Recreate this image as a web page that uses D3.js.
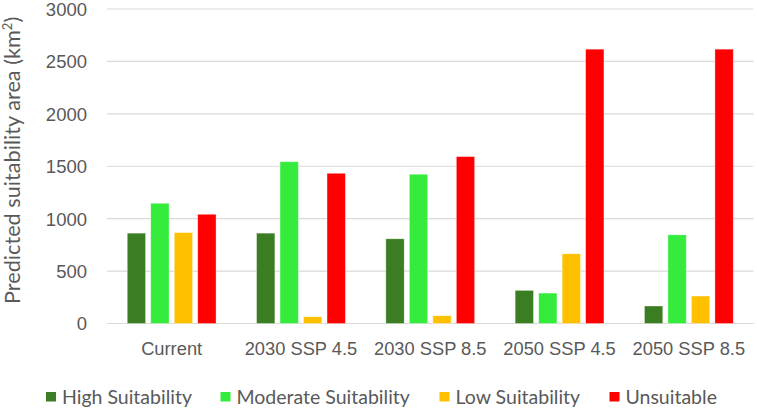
<!DOCTYPE html>
<html lang="en">
<head>
    <meta charset="UTF-8">
    <title>Predicted suitability area</title>
    <script src="https://d3js.org/d3.v7.min.js"></script>
    <style>
        body { margin: 0; background: #fff; font-family: Lato, "Open Sans", sans-serif; }
        .tick text { fill: #595959; }
    </style>
</head>
<body>
    <div id="chart"></div>
    <script>
        // Chart data
        const categories = ["Current", "2030 SSP 4.5", "2030 SSP 8.5", "2050 SSP 4.5", "2050 SSP 8.5"];
        const seriesNames = ["High Suitability", "Moderate Suitability", "Low Suitability", "Unsuitable"];
        const highSuitability = [862, 862, 808, 316, 167];
        const moderateSuitability = [1147, 1543, 1424, 290, 846];
        const lowSuitability = [867, 64, 74, 665, 262];
        const unsuitable = [1042, 1433, 1592, 2617, 2617];
        const yTicks = [0, 500, 1000, 1500, 2000, 2500, 3000];
        const colors = ["#3a7d22", "#35ec3d", "#ffc000", "#ff0000"];

        const seriesValues = [highSuitability, moderateSuitability, lowSuitability, unsuitable];

        const width = 757;
        const height = 408;
        const margin = { top: 9, right: 3.5, bottom: 84.5, left: 107 };

        const svg = d3.select("#chart")
            .append("svg")
            .attr("width", width)
            .attr("height", height);

        const x0 = d3.scaleBand()
            .domain(categories)
            .range([margin.left, width - margin.right]);

        // bars sit in the middle of each category band
        const mid = x0.bandwidth() / 2;
        const x1 = d3.scaleBand()
            .domain(seriesNames)
            .range([mid - 44.4, mid + 44.4])
            .paddingInner(0.22);

        const y = d3.scaleLinear()
            .domain([0, 3000])
            .range([height - margin.bottom, margin.top]);

        // Gridlines
        svg.append("g")
            .selectAll("line")
            .data(yTicks)
            .enter().append("line")
            .attr("x1", margin.left)
            .attr("x2", width - margin.right)
            .attr("y1", d => y(d))
            .attr("y2", d => y(d))
            .attr("stroke", "#d9d9d9")
            .attr("stroke-width", 1.2);

        // Y axis labels
        const yAxis = svg.append("g")
            .attr("transform", `translate(87,0.5)`)
            .call(d3.axisLeft(y).tickValues(yTicks).tickFormat(d3.format("d")).tickSize(0).tickPadding(0));
        yAxis.select(".domain").remove();
        yAxis.selectAll("text").attr("font-size", 18.5);

        // X axis labels
        const xAxis = svg.append("g")
            .attr("transform", `translate(0,${height - margin.bottom})`)
            .call(d3.axisBottom(x0).tickSize(0).tickPadding(19));
        xAxis.select(".domain").remove();
        xAxis.selectAll("text").attr("font-size", 18.3);

        // Bars
        const groups = svg.append("g")
            .selectAll("g")
            .data(categories)
            .enter().append("g")
            .attr("transform", d => `translate(${x0(d)},0)`);

        groups.selectAll("rect")
            .data((d, i) => seriesNames.map((s, j) => ({ s, j, v: seriesValues[j][i] })))
            .enter().append("rect")
            .attr("x", d => x1(d.s))
            .attr("y", d => y(d.v))
            .attr("width", x1.bandwidth())
            .attr("height", d => y(0) - y(d.v))
            .attr("fill", d => colors[d.j])
            .attr("stroke", "rgba(255,255,255,0.5)")
            .attr("stroke-width", 0.7);

        // Y axis title (starts at the bottom, runs upward)
        svg.append("text")
            .attr("transform", `translate(19.5,304) rotate(-90)`)
            .attr("text-anchor", "start")
            .attr("font-size", 21.7)
            .attr("fill", "#595959")
            .html('Predicted suitability area (km<tspan baseline-shift="super" font-size="13">2</tspan>)');

        // Legend
        const legendX = [46, 220.5, 439.5, 609.5];
        const legend = svg.append("g")
            .selectAll("g")
            .data(seriesNames)
            .enter().append("g")
            .attr("transform", (d, i) => `translate(${legendX[i]},392)`);
        legend.append("rect")
            .attr("x", 0)
            .attr("y", 0)
            .attr("width", 10)
            .attr("height", 9.5)
            .attr("fill", (d, i) => colors[i]);
        legend.append("text")
            .attr("x", 16)
            .attr("y", 11.5)
            .attr("font-size", 19.5)
            .attr("fill", "#595959")
            .text(d => d);
    </script>
</body>
</html>
